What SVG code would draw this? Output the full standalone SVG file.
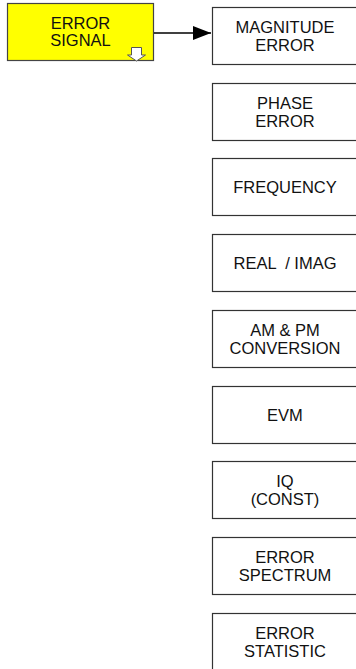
<svg xmlns="http://www.w3.org/2000/svg" width="356" height="669" viewBox="0 0 356 669">
<style>
.box{fill:#fff;stroke:#333;stroke-width:1.2}
.ybox{fill:#ffff00;stroke:#444;stroke-width:1.2}
text{font-family:"Liberation Sans",Arial,sans-serif;font-size:16.5px;fill:#111;text-anchor:middle}
.conn{stroke:#000;stroke-width:1.6;fill:none}
</style>
<defs>
<marker id="ah" markerWidth="18" markerHeight="14" refX="18" refY="7" orient="auto" markerUnits="userSpaceOnUse">
<path d="M0,0 L18,7 L0,14 z" fill="#000"/>
</marker>
</defs>
<rect width="356" height="669" fill="#fff"/>
<g id="error-signal">
<rect class="ybox" x="7.5" y="3.5" width="146" height="57"/>
<text x="80.5" y="29">ERROR</text>
<text x="80.5" y="46">SIGNAL</text>
<path d="M131.5,47.5 h10 v7.5 h4 l-9,6 l-9,-6 h4 z" fill="#fff" stroke="#555" stroke-width="1"/>
</g>
<g id="connectors">
<line class="conn" x1="154" y1="33" x2="211" y2="33" marker-end="url(#ah)"/>
</g>
<g id="magnitude-error">
<rect class="box" x="212.5" y="7.5" width="146" height="57"/>
<text x="285" y="33">MAGNITUDE</text>
<text x="285" y="51">ERROR</text>
</g>
<g id="phase-error">
<rect class="box" x="212.5" y="83.5" width="146" height="57"/>
<text x="285" y="109">PHASE</text>
<text x="285" y="127">ERROR</text>
</g>
<g id="frequency">
<rect class="box" x="212.5" y="158.5" width="146" height="57"/>
<text x="285" y="192.5">FREQUENCY</text>
</g>
<g id="real-imag">
<rect class="box" x="212.5" y="234.5" width="146" height="57"/>
<text x="285" y="268.5" xml:space="preserve">REAL  / IMAG</text>
</g>
<g id="am-pm-conversion">
<rect class="box" x="212.5" y="310.5" width="146" height="57"/>
<text x="285" y="336">AM &amp; PM</text>
<text x="285" y="354">CONVERSION</text>
</g>
<g id="evm">
<rect class="box" x="212.5" y="386.5" width="146" height="57"/>
<text x="285" y="420.5">EVM</text>
</g>
<g id="iq-const">
<rect class="box" x="212.5" y="461.5" width="146" height="57"/>
<text x="285" y="487">IQ</text>
<text x="285" y="505">(CONST)</text>
</g>
<g id="error-spectrum">
<rect class="box" x="212.5" y="537.5" width="146" height="57"/>
<text x="285" y="563">ERROR</text>
<text x="285" y="581">SPECTRUM</text>
</g>
<g id="error-statistic">
<rect class="box" x="212.5" y="613.5" width="146" height="57"/>
<text x="285" y="639">ERROR</text>
<text x="285" y="657">STATISTIC</text>
</g>
</svg>
